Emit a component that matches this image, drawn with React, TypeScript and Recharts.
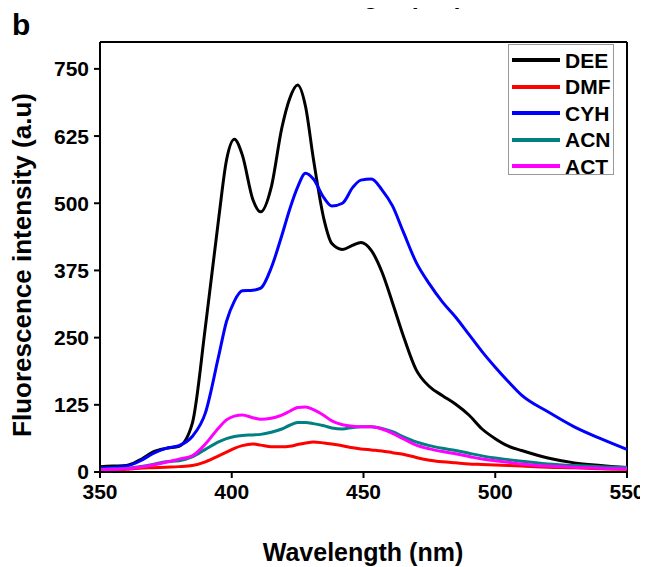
import { LineChart, Line, XAxis, YAxis, ReferenceLine } from 'recharts';

const wavelengths = [350, 355, 360, 365, 370, 375, 380, 385, 390, 395, 398, 401, 404, 408, 411, 415, 419, 422, 425, 428, 431, 435, 438, 442, 446, 449, 453, 457, 461, 465, 470, 475, 480, 485, 490, 495, 500, 505, 510, 520, 530, 540, 550];

const dee = [10, 11, 12, 22, 37, 44, 48, 90, 270, 470, 580, 619, 590, 507, 484, 530, 640, 695, 720, 680, 582, 470, 425, 414, 422, 427, 412, 372, 315, 255, 190, 159, 142, 126, 106, 80, 62, 48, 40, 26, 17, 12, 8];
const dmf = [2, 3, 5, 7, 8, 9, 10, 12, 19, 30, 37, 44, 49, 52, 50, 47, 47, 48, 51, 54, 56, 54, 52, 49, 45, 43, 41, 39, 36, 33, 27, 22, 19, 17, 15, 14, 13, 12, 11, 9, 8, 6, 5];
const cyh = [8, 9, 11, 20, 34, 44, 49, 66, 110, 215, 280, 318, 337, 338, 342, 380, 440, 489, 530, 556, 545, 510, 495, 500, 530, 543, 545, 525, 495, 448, 390, 350, 316, 288, 256, 224, 195, 168, 143, 112, 84, 62, 42];
const acn = [5, 6, 7, 10, 14, 19, 21, 28, 42, 56, 62, 66, 68, 69, 70, 74, 80, 87, 92, 92, 90, 86, 82, 80, 83, 84, 84, 81, 75, 66, 56, 49, 44, 40, 35, 30, 26, 23, 20, 15, 12, 10, 9];
const act = [4, 5, 6, 9, 13, 18, 24, 30, 52, 82, 97, 104, 106, 101, 98, 100, 106, 113, 120, 121, 116, 105, 95, 88, 85, 84, 84, 80, 72, 62, 50, 43, 38, 34, 29, 24, 21, 18, 15, 11, 9, 7, 6];

const xTicks = [350, 400, 450, 500, 550];
const yTicks = [0, 125, 250, 375, 500, 625, 750];

const series = [
  { key: 'DEE', color: '#000000' },
  { key: 'DMF', color: '#ff0000' },
  { key: 'CYH', color: '#0000ff' },
  { key: 'ACN', color: '#008080' },
  { key: 'ACT', color: '#ff00ff' },
];

const data = wavelengths.map((w, i) => ({
  w,
  DEE: dee[i],
  DMF: dmf[i],
  CYH: cyh[i],
  ACN: acn[i],
  ACT: act[i],
}));

const FONT = '"Liberation Sans", Arial, sans-serif';
const tickStyle = { fontSize: 21, fontWeight: 'bold', fill: '#000', fontFamily: FONT };

// legend drawn as a plain box over the plot (Recharts' Legend would shrink the plot)
const LegendBox = () => (
  <div style={{ position: 'absolute', left: 500, top: 36, border: '1px solid #999', background: '#fff', width: 106, height: 131, boxSizing: 'border-box', paddingTop: 2, fontFamily: FONT }}>
    {series.map((s) => (
      <div key={s.key} style={{ display: 'flex', alignItems: 'center', height: 26.5 }}>
        <div style={{ width: 48, height: 4, marginLeft: 3, background: s.color }} />
        <span style={{ marginLeft: 5, fontSize: 21, fontWeight: 'bold', color: '#000', lineHeight: '21px' }}>{s.key}</span>
      </div>
    ))}
  </div>
);

export default function App() {
  return (
    <div style={{ position: 'relative', width: 640, height: 559, fontFamily: FONT }}>
      {/* bottom of the x title of the panel above, cut off by the page edge */}
      <div style={{ position: 'absolute', left: 0, width: 710, top: -25, textAlign: 'center', fontSize: 25, fontWeight: 'bold', lineHeight: '25px' }}>
        Wavelength (nm)
      </div>
      <div style={{ position: 'absolute', left: 4, top: 2, fontSize: 30, fontWeight: 'bold', lineHeight: '30px' }}>b</div>
      <LineChart width={640} height={559} data={data} margin={{ top: 34, right: 21, bottom: 65, left: 32 }}>
        <XAxis
          type="number"
          dataKey="w"
          domain={[350, 550]}
          ticks={xTicks}
          tick={tickStyle}
          tickSize={6}
          tickMargin={6}
          height={30}
          axisLine={{ stroke: '#000', strokeWidth: 2 }}
          tickLine={{ stroke: '#000', strokeWidth: 2 }}
        />
        <YAxis
          type="number"
          domain={[0, 800]}
          ticks={yTicks}
          tick={tickStyle}
          tickSize={6}
          tickMargin={5}
          width={60}
          axisLine={{ stroke: '#000', strokeWidth: 2 }}
          tickLine={{ stroke: '#000', strokeWidth: 2 }}
        />
        <ReferenceLine y={800} stroke="#000" strokeWidth={2} />
        <ReferenceLine x={550} stroke="#000" strokeWidth={2} />
        {series.map((s) => (
          <Line key={s.key} type="monotone" dataKey={s.key} stroke={s.color} strokeWidth={3} dot={false} isAnimationActive={false} />
        ))}
      </LineChart>
      <LegendBox />
      <div style={{ position: 'absolute', left: 0, width: 710, top: 532, textAlign: 'center', fontSize: 25, fontWeight: 'bold', lineHeight: '25px' }}>
        Wavelength (nm)
      </div>
      <div style={{ position: 'absolute', left: 14, top: 257, width: 0, height: 0 }}>
        <div style={{ position: 'absolute', left: 0, top: 0, transform: 'translate(-50%, -50%) rotate(-90deg)', whiteSpace: 'nowrap', fontSize: 26, fontWeight: 'bold', lineHeight: '26px' }}>
          Fluorescence intensity (a.u)
        </div>
      </div>
    </div>
  );
}
